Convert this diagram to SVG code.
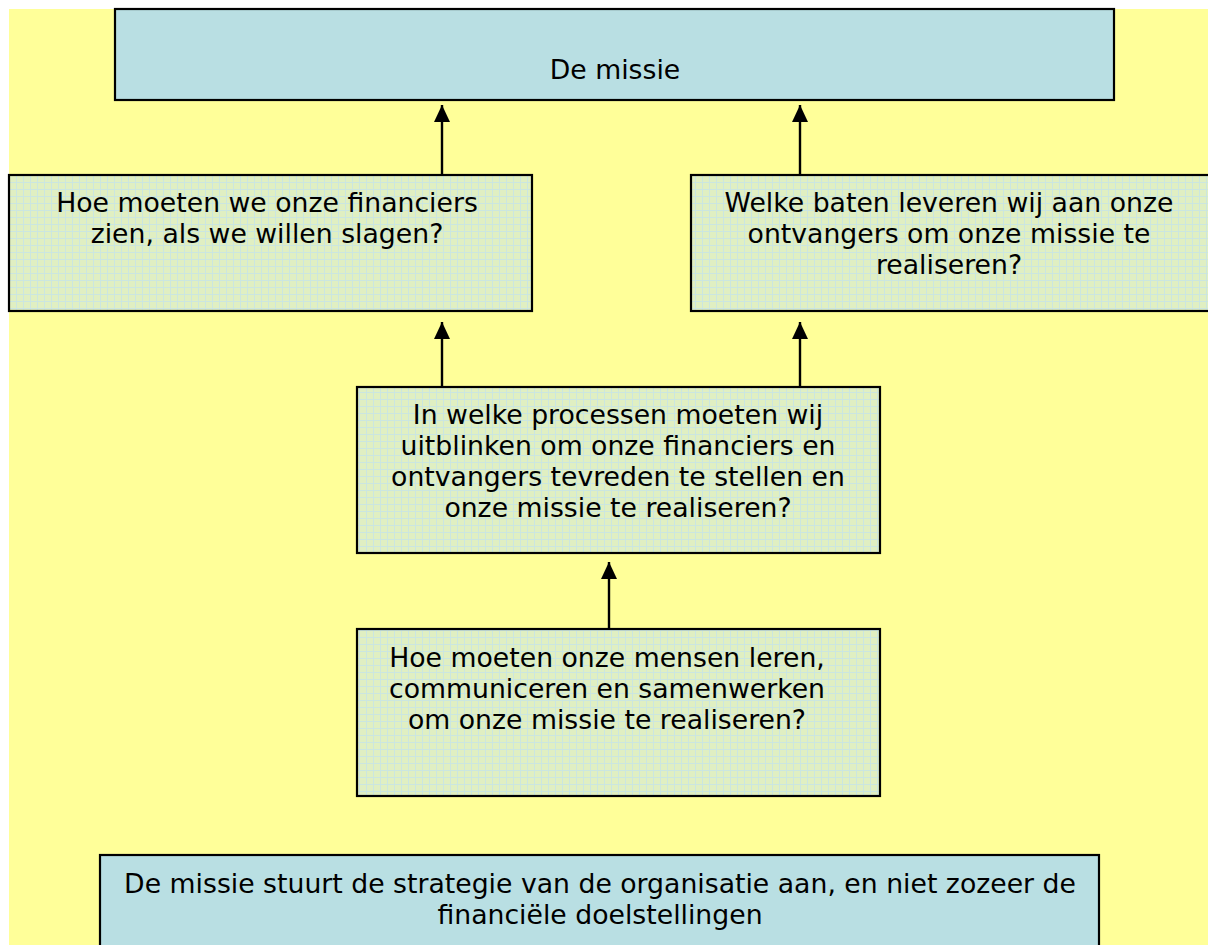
<svg xmlns="http://www.w3.org/2000/svg" width="1208" height="945" viewBox="0 0 1208 945">
  <defs>
    <pattern id="grid" patternUnits="userSpaceOnUse" x="10" y="176" width="7" height="7">
      <rect width="7" height="7" fill="#E0EFC2"/>
      <path d="M6.5,0 V7 M0,6.5 H7" stroke="#CBE6E0" stroke-width="1" fill="none"/>
    </pattern>
    <marker id="arrow" markerUnits="userSpaceOnUse" markerWidth="17" markerHeight="16" refX="17" refY="8" orient="auto">
      <path d="M0,0 L17,8 L0,16 Z" fill="#000"/>
    </marker>
    <style>
      .box { stroke: #000; stroke-width: 2.2; }
      .blue { fill: #B9DFE3; }
      .green { fill: url(#grid); }
      .t { font-family: "DejaVu Sans", Verdana, sans-serif; font-size: 26.7px; fill: #000; text-anchor: middle; }
      .conn { stroke: #000; stroke-width: 2.4; fill: none; marker-end: url(#arrow); }
    </style>
  </defs>
  <rect x="0" y="0" width="1208" height="945" fill="#FFFFFF"/>
  <rect x="9" y="9" width="1200" height="940" fill="#FFFF99"/>

  <g id="connectors">
    <line class="conn" x1="442" y1="176" x2="442" y2="105"/>
    <line class="conn" x1="800" y1="176" x2="800" y2="105"/>
    <line class="conn" x1="442" y1="388" x2="442" y2="322"/>
    <line class="conn" x1="800" y1="388" x2="800" y2="322"/>
    <line class="conn" x1="609" y1="630" x2="609" y2="562"/>
  </g>

  <g id="missie">
    <rect class="box blue" x="115" y="9" width="999" height="91"/>
    <text class="t" x="615" y="79">De missie</text>
  </g>

  <g id="financiers">
    <rect class="box green" x="9" y="175" width="523" height="136"/>
    <text class="t" x="267" y="212">Hoe moeten we onze financiers</text>
    <text class="t" x="267" y="243">zien, als we willen slagen?</text>
  </g>

  <g id="ontvangers">
    <rect class="box green" x="691" y="175" width="530" height="136"/>
    <text class="t" x="949" y="212">Welke baten leveren wij aan onze</text>
    <text class="t" x="949" y="243">ontvangers om onze missie te</text>
    <text class="t" x="949" y="274">realiseren?</text>
  </g>

  <g id="processen">
    <rect class="box green" x="357" y="387" width="523" height="166"/>
    <text class="t" x="618" y="424">In welke processen moeten wij</text>
    <text class="t" x="618" y="455">uitblinken om onze financiers en</text>
    <text class="t" x="618" y="486">ontvangers tevreden te stellen en</text>
    <text class="t" x="618" y="517">onze missie te realiseren?</text>
  </g>

  <g id="mensen">
    <rect class="box green" x="357" y="629" width="523" height="167"/>
    <text class="t" x="607" y="667">Hoe moeten onze mensen leren,</text>
    <text class="t" x="607" y="698">communiceren en samenwerken</text>
    <text class="t" x="607" y="729">om onze missie te realiseren?</text>
  </g>

  <g id="strategie">
    <rect class="box blue" x="100" y="855" width="999" height="100"/>
    <text class="t" x="600" y="893">De missie stuurt de strategie van de organisatie aan, en niet zozeer de</text>
    <text class="t" x="600" y="924">financiële doelstellingen</text>
  </g>
</svg>
